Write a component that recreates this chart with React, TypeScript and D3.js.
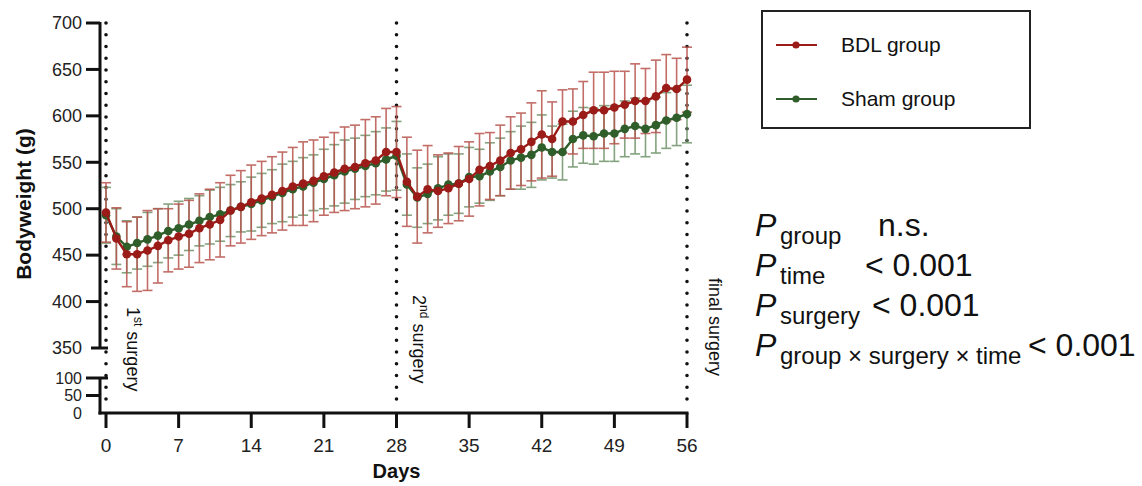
import React from 'react'
import * as d3 from 'd3'

// days 0..56, one measurement per day
const days = d3.range(0, 57)

const bdlMean = [
  496, 468, 451, 451, 455, 460, 466, 470, 473, 479, 483, 488, 498, 502, 507,
  511, 515, 519, 524, 527, 530, 535, 539, 543, 545, 549, 552, 561, 561, 529,
  513, 521, 519, 522, 527, 532, 542, 546, 552, 560, 564, 572, 580, 575, 594,
  594, 601, 606, 606, 609, 612, 616, 616, 621, 630, 629, 639,
]
const bdlSd = [
  32, 33, 35, 40, 43, 40, 34, 35, 36, 37, 38, 40, 38, 39, 40,
  40, 41, 42, 42, 45, 44, 42, 43, 45, 45, 47, 47, 47, 49, 48,
  50, 47, 39, 38, 40, 40, 39, 36, 38, 39, 39, 42, 47, 40, 34,
  35, 36, 41, 41, 39, 36, 40, 35, 39, 36, 33, 35,
]
const shamMean = [
  493, 470, 459, 463, 467, 471, 476, 479, 483, 487, 491, 494, 498, 502, 505,
  509, 513, 517, 521, 524, 528, 532, 536, 540, 543, 546, 549, 553, 557, 526,
  512, 516, 522, 526, 527, 534, 535, 540, 545, 552, 555, 558, 566, 561, 561,
  575, 579, 578, 581, 581, 586, 589, 586, 590, 595, 598, 602,
]
const shamSd = [
  30, 30, 28, 28, 29, 29, 29, 29, 28, 27, 29, 29, 28, 27, 29,
  29, 29, 31, 30, 31, 30, 32, 33, 34, 33, 33, 34, 34, 37, 33,
  32, 32, 34, 33, 32, 32, 29, 31, 31, 31, 34, 35, 35, 28, 30,
  30, 30, 30, 30, 30, 30, 30, 30, 30, 30, 30, 31,
]

const xTicks = [0, 7, 14, 21, 28, 35, 42, 49, 56]
const yTicksTop = [400, 450, 500, 550, 600, 650, 700]
const yTicksBottom = [0, 50, 100]
const surgeryDays = [0, 28, 56]

const RED = '#9a1b17'
const RED_ERR = '#b8544e'
const GREEN = '#2f5e2a'
const GREEN_ERR = '#6f9369'
const FONT = '"Liberation Sans", Arial, sans-serif'

export default function App() {
  const x = d3.scaleLinear().domain([0, 56]).range([106, 687])
  const yTop = d3.scaleLinear().domain([350, 700]).range([348, 23])
  const yBot = d3.scaleLinear().domain([0, 100]).range([413, 378])
  const axisX = 100

  const line = d3
    .line<number>()
    .x((_, i) => x(days[i]))
    .y((d) => yTop(d))

  const errorBars = (mean: number[], sd: number[], color: string) =>
    mean.map((m, i) => {
      const cx = x(days[i])
      const y1 = yTop(m + sd[i])
      const y2 = yTop(m - sd[i])
      return (
        <g key={i} stroke={color} strokeWidth={1.6} opacity={0.85}>
          <line x1={cx} x2={cx} y1={y1} y2={y2} />
          <line x1={cx - 5} x2={cx + 5} y1={y1} y2={y1} />
          <line x1={cx - 5} x2={cx + 5} y1={y2} y2={y2} />
        </g>
      )
    })

  const series = (mean: number[], color: string) => (
    <g>
      <path d={line(mean) || ''} fill="none" stroke={color} strokeWidth={2.4} />
      {mean.map((m, i) => (
        <circle key={i} cx={x(days[i])} cy={yTop(m)} r={4.3} fill={color} />
      ))}
    </g>
  )

  return (
    <svg
      width={1142}
      height={486}
      style={{ position: 'absolute', left: 0, top: 0, background: '#fff' }}
      fontFamily={FONT}
    >
      {/* surgery markers */}
      {surgeryDays.map((d) => (
        <line
          key={d}
          x1={x(d)}
          x2={x(d)}
          y1={23}
          y2={401}
          stroke="#111"
          strokeWidth={3.6}
          strokeLinecap="round"
          strokeDasharray="0 11.75"
        />
      ))}

      {/* y axis, broken */}
      <g stroke="#111" strokeWidth={3}>
        <line x1={axisX} x2={axisX} y1={yTop(700) - 1} y2={yTop(350)} />
        <line x1={axisX} x2={axisX} y1={yBot(100)} y2={yBot(0) + 1.5} />
        {yTicksTop.map((t) => (
          <line key={t} x1={86} x2={axisX} y1={yTop(t)} y2={yTop(t)} />
        ))}
        <line x1={91} x2={108} y1={yTop(350)} y2={yTop(350)} />
        <line x1={86} x2={108} y1={yBot(100)} y2={yBot(100)} />
        <line x1={86} x2={axisX} y1={yBot(50)} y2={yBot(50)} />
      </g>
      <g fontSize={18} fill="#222" textAnchor="end">
        {[350, ...yTicksTop].map((t) => (
          <text key={t} x={82} y={yTop(t)} dy="0.35em">{t}</text>
        ))}
      </g>
      <g fontSize={16} fill="#222" textAnchor="end">
        {yTicksBottom.map((t) => (
          <text key={t} x={82} y={yBot(t)} dy="0.35em">{t}</text>
        ))}
      </g>

      {/* x axis */}
      <g stroke="#111" strokeWidth={3}>
        <line x1={axisX - 1.5} x2={x(56) + 1.5} y1={413} y2={413} />
        {xTicks.map((t) => (
          <line key={t} x1={x(t)} x2={x(t)} y1={413} y2={428} />
        ))}
      </g>
      <g fontSize={19} fill="#222" textAnchor="middle">
        {xTicks.map((t) => (
          <text key={t} x={x(t)} y={452}>{t}</text>
        ))}
      </g>
      <text x={x(28)} y={478} textAnchor="middle" fontSize={20} fontWeight="bold" fill="#111">
        Days
      </text>
      <text
        transform="translate(31,204) rotate(-90)"
        textAnchor="middle"
        fontSize={21}
        fontWeight="bold"
        fill="#111"
      >
        Bodyweight (g)
      </text>

      {/* data */}
      {errorBars(shamMean, shamSd, GREEN_ERR)}
      {errorBars(bdlMean, bdlSd, RED_ERR)}
      {series(shamMean, GREEN)}
      {series(bdlMean, RED)}

      {/* surgery labels */}
      <g fontSize={18} fill="#111">
        <text transform="translate(127,307) rotate(90)">
          1<tspan fontSize={12} dy="-7">st</tspan>
          <tspan dy="7"> surgery</tspan>
        </text>
        <text transform="translate(413,295) rotate(90)">
          2<tspan fontSize={12} dy="-7">nd</tspan>
          <tspan dy="7"> surgery</tspan>
        </text>
        <text transform="translate(709,278) rotate(90)">final surgery</text>
      </g>

      {/* legend */}
      <rect x={762} y={11} width={268} height={117} fill="none" stroke="#222" strokeWidth={2} />
      <line x1={776} x2={817} y1={45} y2={45} stroke={RED} strokeWidth={1.8} />
      <circle cx={796} cy={45} r={3.6} fill={RED} />
      <text x={841} y={45} dy="0.35em" fontSize={21} fill="#111">BDL group</text>
      <line x1={776} x2={817} y1={99} y2={99} stroke={GREEN} strokeWidth={1.8} />
      <circle cx={796} cy={99} r={3.6} fill={GREEN} />
      <text x={841} y={99} dy="0.35em" fontSize={21} fill="#111">Sham group</text>

      {/* statistics */}
      <g fill="#111">
        <text x={755} y={236} fontSize={32} fontStyle="italic">P</text>
        <text x={780} y={244} fontSize={24}>group</text>
        <text x={878} y={236} fontSize={32}>n.s.</text>

        <text x={755} y={276} fontSize={32} fontStyle="italic">P</text>
        <text x={780} y={284} fontSize={24}>time</text>
        <text x={865} y={276} fontSize={32}>&lt; 0.001</text>

        <text x={755} y={316} fontSize={32} fontStyle="italic">P</text>
        <text x={780} y={324} fontSize={24}>surgery</text>
        <text x={872} y={316} fontSize={32}>&lt; 0.001</text>

        <text x={755} y={356} fontSize={32} fontStyle="italic">P</text>
        <text x={780} y={364} fontSize={24}>group × surgery × time</text>
        <text x={1028} y={356} fontSize={32}>&lt; 0.001</text>
      </g>
    </svg>
  )
}
